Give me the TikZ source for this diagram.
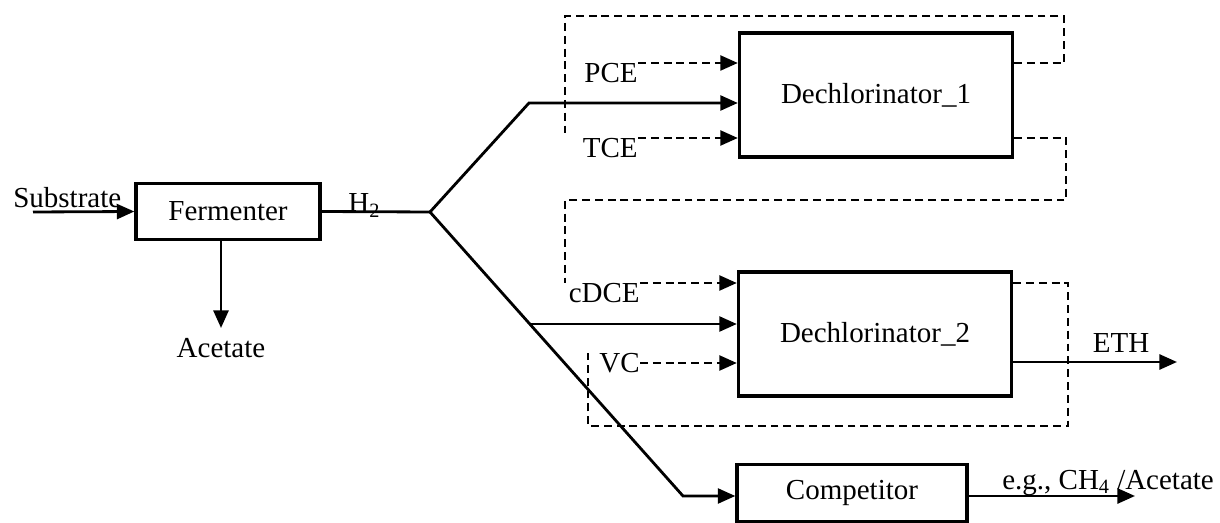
\documentclass[tikz,border=0pt]{standalone}
\usepackage{fontspec}
\setmainfont{Liberation Serif}
\usetikzlibrary{arrows.meta}

\tikzset{
  unit/.style={draw=black, line width=1.9pt, minimum height=1.13cm},
  tip/.style={-{Triangle[length=10pt,width=8.5pt]}},
  flow/.style={line width=1.6pt, tip},
  feed/.style={line width=1.5pt, dash pattern=on 4.5pt off 2.8pt},
  tag/.style={inner sep=0pt},
}

\begin{document}
\begin{tikzpicture}[x=0.02cm, y=-0.02cm, font=\fontsize{16.5}{19}\selectfont]
    \useasboundingbox (0,0) rectangle (1220,523);

    % process units
    \node[unit, minimum width=3.68cm] (ferm) at (228,211.5) {Fermenter};
    \node[unit, minimum width=5.46cm, minimum height=2.48cm] (dech1) at (876,95) {Dechlorinator\_1};
    \node[unit, minimum width=5.46cm, minimum height=2.48cm] (dech2) at (875,334) {Dechlorinator\_2};
    \node[unit, minimum width=4.6cm] (comp) at (852,493) {Competitor};

    % labels
    \node[tag, anchor=base west] (sub) at (13,208) {Substrate};
    \node[tag, anchor=base west] (h2) at (348,213) {H\textsubscript{2}};
    \node[tag, anchor=north] (acet) at (221,338) {Acetate};
    \node[tag, anchor=north east] (pce) at (638,63) {PCE};
    \node[tag, anchor=north east] (tce) at (638,138) {TCE};
    \node[tag, anchor=north east] (cdce) at (640,283) {cDCE};
    \node[tag, anchor=east] (vc) at (640,363) {VC};
    \node[tag, anchor=base] (eth) at (1121,353) {ETH};
    \node[tag, anchor=base west] (prod) at (1002,489) {e.g., CH\textsubscript{4} /Acetate};

    \coordinate (subin) at (33,212);
    \coordinate (split) at (430,212);
    \coordinate (up) at (529,103);
    \coordinate (mid) at (530,324);
    \coordinate (low) at (683,496);
    \coordinate (ethend) at (1177,362);
    \coordinate (prodend) at (1135,496);
    \coordinate (topA) at (1064,16);
    \coordinate (leftA) at (565,16);
    \coordinate (topB) at (1066,200);
    \coordinate (leftB) at (565,200);
    \coordinate (topC) at (1068,426);
    \coordinate (leftC) at (588,426);

    % hydrogen supply
    \draw[flow] (subin) -- (ferm.west);
    \draw[flow, shorten >=0.2cm] (ferm.south -| acet) -- (acet.north);
    \draw[line width=1.6pt] (ferm.east) -- (split);
    \draw[flow] (split) -- (up) -- (up -| dech1.west);
    \draw[flow] (split) -- (low) -- (low -| comp.west);
    \draw[flow] (mid) -- (mid -| dech2.west);

    % chlorinated feeds
    \draw[feed, tip] (pce.north east) -- (pce.north east -| dech1.west);
    \draw[feed, tip] (tce.north east) -- (tce.north east -| dech1.west);
    \draw[feed, tip] (cdce.north east) -- (cdce.north east -| dech2.west);
    \draw[feed, tip] (vc.east) -- (vc.east -| dech2.west);

    % recycled products
    \draw[feed] (dech1.east |- pce.north east) -| (topA) -- (leftA) -- (leftA |- tce.north west);
    \draw[feed] (dech1.east |- tce.north east) -| (topB) -- (leftB) -- (leftB |- cdce.north west);
    \draw[feed] (dech2.east |- cdce.north east) -| (topC) -- (leftC) -- (leftC |- vc.north west);

    % outputs
    \draw[flow] (dech2.east |- ethend) -- (ethend);
    \draw[flow] (comp.east |- prodend) -- (prodend);
\end{tikzpicture}
\end{document}
